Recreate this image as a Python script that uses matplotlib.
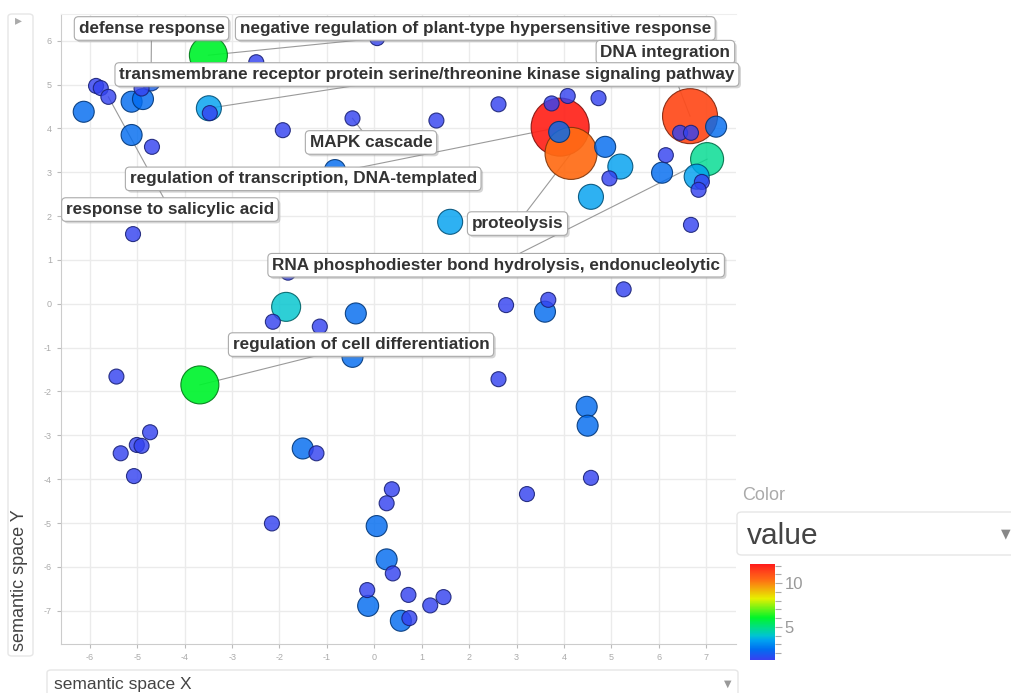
import matplotlib
matplotlib.use('Agg')
import matplotlib.pyplot as plt
import matplotlib.patheffects as pe
from matplotlib.colors import LinearSegmentedColormap, Normalize
from matplotlib.patches import FancyBboxPatch
from matplotlib.cm import ScalarMappable
from matplotlib.ticker import MultipleLocator
import numpy as np

plt.rcParams['font.family'] = ['Liberation Sans', 'DejaVu Sans']
plt.rcParams['axes.unicode_minus'] = False

# semantic space coordinates of the GO terms
sem_x = [-5.87, -5.77, -5.61, -6.13, -5.12, -4.88, -4.91, -4.71, -5.12, -4.69,
         -3.49, -3.47, -3.50, -2.49, -1.93, 0.06, -0.46, -0.83, 1.31, 2.62,
         3.92, 4.15, 6.66, 3.74, 4.08, 4.73, 3.90, 4.87, 5.19, 4.96,
         4.57, 6.15, 6.07, 6.45, 6.68, 7.21, 7.02, 6.80, 6.91, 6.84,
         6.68, 1.60, -5.09, -1.82, -1.86, -2.14, -1.15, -0.39, -0.46, 2.78,
         3.67, 3.60, 5.26, 2.62, 4.48, 4.50, -1.51, -1.22, -2.16, 0.37,
         0.26, 0.05, 0.26, 0.39, -0.15, -0.13, 0.72, 1.18, 1.46, 0.56,
         0.74, 3.22, 4.57, -5.44, -3.68, -4.73, -5.01, -4.91, -5.35, -5.07]
sem_y = [4.97, 4.92, 4.72, 4.38, 4.61, 4.67, 4.91, 5.06, 3.85, 3.58,
         4.46, 4.35, 5.67, 5.51, 3.96, 6.06, 4.23, 3.05, 4.18, 4.55,
         4.03, 3.43, 4.28, 4.57, 4.74, 4.69, 3.92, 3.58, 3.13, 2.86,
         2.44, 3.39, 2.99, 3.90, 3.90, 4.04, 3.30, 2.90, 2.78, 2.60,
         1.80, 1.87, 1.59, 0.71, -0.07, -0.41, -0.52, -0.22, -1.21, -0.03,
         0.09, -0.18, 0.33, -1.72, -2.35, -2.78, -3.30, -3.41, -5.01, -4.23,
         -4.55, -5.07, -5.83, -6.15, -6.53, -6.89, -6.64, -6.88, -6.69, -7.23,
         -7.17, -4.34, -3.97, -1.66, -1.85, -2.93, -3.22, -3.24, -3.41, -3.93]
log_size = [0.7, 0.7, 0.7, 1.3, 1.3, 1.3, 0.7, 1.0, 1.3, 0.7,
            1.7, 0.7, 3.0, 0.7, 0.7, 0.7, 0.7, 1.3, 0.7, 0.7,
            5.0, 4.4, 4.7, 0.7, 0.7, 0.7, 1.3, 1.3, 1.7, 0.7,
            1.7, 0.7, 1.3, 0.7, 0.7, 1.3, 2.5, 1.7, 0.7, 0.7,
            0.7, 1.7, 0.7, 0.7, 2.1, 0.7, 0.7, 1.3, 1.3, 0.7,
            0.7, 1.3, 0.7, 0.7, 1.3, 1.3, 1.3, 0.7, 0.7, 0.7,
            0.7, 1.3, 1.3, 0.7, 0.7, 1.3, 0.7, 0.7, 0.7, 1.3,
            0.7, 0.7, 0.7, 0.7, 3.0, 0.7, 0.7, 0.7, 0.7, 0.7]
value = [1.3, 1.3, 1.3, 2.4, 2.4, 2.4, 1.3, 2.0, 2.4, 1.3,
         3.4, 1.3, 6.0, 1.3, 1.3, 1.3, 1.3, 2.4, 1.3, 1.3,
         12.0, 10.4, 11.2, 1.3, 1.3, 1.3, 2.4, 2.4, 3.4, 1.3,
         3.4, 1.3, 2.4, 1.3, 1.3, 2.4, 4.8, 3.4, 1.3, 1.3,
         1.3, 3.4, 1.3, 1.3, 4.0, 1.3, 1.3, 2.4, 2.4, 1.3,
         1.3, 2.4, 1.3, 1.3, 2.4, 2.4, 2.4, 1.3, 1.3, 1.3,
         1.3, 2.4, 2.4, 1.3, 1.3, 2.4, 1.3, 1.3, 1.3, 2.4,
         1.3, 1.3, 1.3, 1.3, 6.0, 1.3, 1.3, 1.3, 1.3, 1.3]

# labelled terms and the bubble each one belongs to
term_names = ['defense response',
              'negative regulation of plant-type hypersensitive response',
              'DNA integration',
              'transmembrane receptor protein serine/threonine kinase signaling pathway',
              'MAPK cascade',
              'regulation of transcription, DNA-templated',
              'response to salicylic acid',
              'proteolysis',
              'RNA phosphodiester bond hydrolysis, endonucleolytic',
              'regulation of cell differentiation']
term_bubble = [7, 12, 22, 10, 16, 20, 2, 21, 36, 74]
label_x = [-4.70, 2.13, 6.14, 1.11, -0.07, -1.50, -4.31, 3.02, 2.57, -0.28]
label_y = [6.28, 6.28, 5.74, 5.23, 3.68, 2.85, 2.15, 1.83, 0.88, -0.93]

cmap = LinearSegmentedColormap.from_list('revigo', [
    (0.0, '#3840f0'), (0.11, '#006ef0'), (0.20, '#00a0f0'), (0.25, '#00c3d2'),
    (0.33, '#00dc8c'), (0.44, '#00f52a'), (0.64, '#e6f000'), (0.84, '#ff6a14'),
    (0.91, '#ff4a1a'), (1.0, '#ff1a1a')])
norm = Normalize(vmin=1.2, vmax=12.2)

fig = plt.figure(figsize=(10.11, 6.93), dpi=100)
ax = fig.add_axes([0.0603, 0.0707, 0.6677, 0.9091])

sx = np.array(sem_x)
sy = np.array(sem_y)
ls = np.array(log_size)
val = np.array(value)
diam = 8 + 10 * ls
sizes = (diam * 0.72) ** 2
face = cmap(norm(val))
face[:, 3] = np.where(ls > 2.8, 0.92, 0.82)
edge = face.copy()
edge[:, :3] = face[:, :3] * 0.5
edge[:, 3] = 0.9

# big bubbles first so the small ones stay visible
order = np.argsort(-ls, kind='stable')
ax.scatter(sx[order], sy[order], s=sizes[order], c=face[order],
           edgecolors=edge[order], linewidths=0.8, zorder=3)

for name, b, lx, ly in zip(term_names, term_bubble, label_x, label_y):
    ax.plot([lx, sx[b]], [ly, sy[b]], color='#9a9a9a', lw=0.8, zorder=2)
    t = ax.text(lx, ly, name, ha='center', va='center', fontsize=12.3,
                fontweight='bold', color='#333333', zorder=5, clip_on=False,
                bbox=dict(boxstyle='round,pad=0.25,rounding_size=0.25',
                          fc='white', ec='#aaaaaa', lw=0.8))
    t.get_bbox_patch().set_path_effects(
        [pe.SimplePatchShadow(offset=(1.5, -1.5), shadow_rgbFace='#888888', alpha=0.35),
         pe.Normal()])

ax.set_xlim(-6.61, 7.63)
ax.set_ylim(-7.76, 6.61)
ax.xaxis.set_major_locator(MultipleLocator(1))
ax.yaxis.set_major_locator(MultipleLocator(1))
ax.grid(True, color='#ebebeb', lw=1, zorder=0)
ax.set_axisbelow(True)
ax.tick_params(colors='#bbbbbb', labelcolor='#aaaaaa', labelsize=6.5,
               length=3, width=0.8)
for side in ['left', 'bottom']:
    ax.spines[side].set_color('#cccccc')
ax.spines['right'].set_visible(False)
ax.spines['top'].set_color('#eeeeee')

# y-axis title panel
fig.patches.append(FancyBboxPatch((8 / 1011, 1 - 656 / 693), 25 / 1011, 642 / 693,
                                  boxstyle='round,pad=0,rounding_size=0.004',
                                  transform=fig.transFigure, fc='white',
                                  ec='#e6e6e6', lw=1))
fig.text(20 / 1011, 1 - 651 / 693, 'semantic space Y', rotation=90,
         ha='center', va='bottom', fontsize=13, color='#444444')
fig.text(18 / 1011, 1 - 20 / 693, '\u25b8', ha='center', va='center',
         fontsize=10, color='#aaaaaa', family=['DejaVu Sans'])

# x-axis title panel
fig.patches.append(FancyBboxPatch((47 / 1011, -0.02), 691 / 1011, 1 - 670 / 693 + 0.02,
                                  boxstyle='round,pad=0,rounding_size=0.004',
                                  transform=fig.transFigure, fc='white',
                                  ec='#e6e6e6', lw=1))
fig.text(54 / 1011, 1 - 684 / 693, 'semantic space X', ha='left', va='center',
         fontsize=12.5, color='#444444')
fig.text(728 / 1011, 1 - 684 / 693, '\u25bc', ha='center', va='center',
         fontsize=7, color='#999999', family=['DejaVu Sans'])

# colour selector and scale
fig.text(742 / 1011, 1 - 496 / 693, 'Color', ha='left', va='center',
         fontsize=13, color='#aaaaaa')
fig.patches.append(FancyBboxPatch((737 / 1011, 1 - 555 / 693), 290 / 1011, 43 / 693,
                                  boxstyle='round,pad=0,rounding_size=0.005',
                                  transform=fig.transFigure, fc='white',
                                  ec='#e6e6e6', lw=1))
fig.text(747 / 1011, 1 - 536 / 693, 'value', ha='left', va='center',
         fontsize=21.5, color='#444444')
fig.text(1006 / 1011, 1 - 534 / 693, '\u25bc', ha='center', va='center',
         fontsize=9, color='#888888', family=['DejaVu Sans'])

cax = fig.add_axes([750 / 1011, 1 - 660 / 693, 25 / 1011, 96 / 693])
cb = fig.colorbar(ScalarMappable(norm=norm, cmap=cmap), cax=cax)
cb.outline.set_visible(False)
cb.set_ticks([5, 10])
cax.yaxis.set_minor_locator(MultipleLocator(1))
cax.tick_params(which='major', length=5, width=0.8, color='#aaaaaa',
                labelsize=12, labelcolor='#999999', pad=2)
cax.tick_params(which='minor', length=4, width=0.8, color='#aaaaaa')

fig.savefig('out.png', dpi=100)
